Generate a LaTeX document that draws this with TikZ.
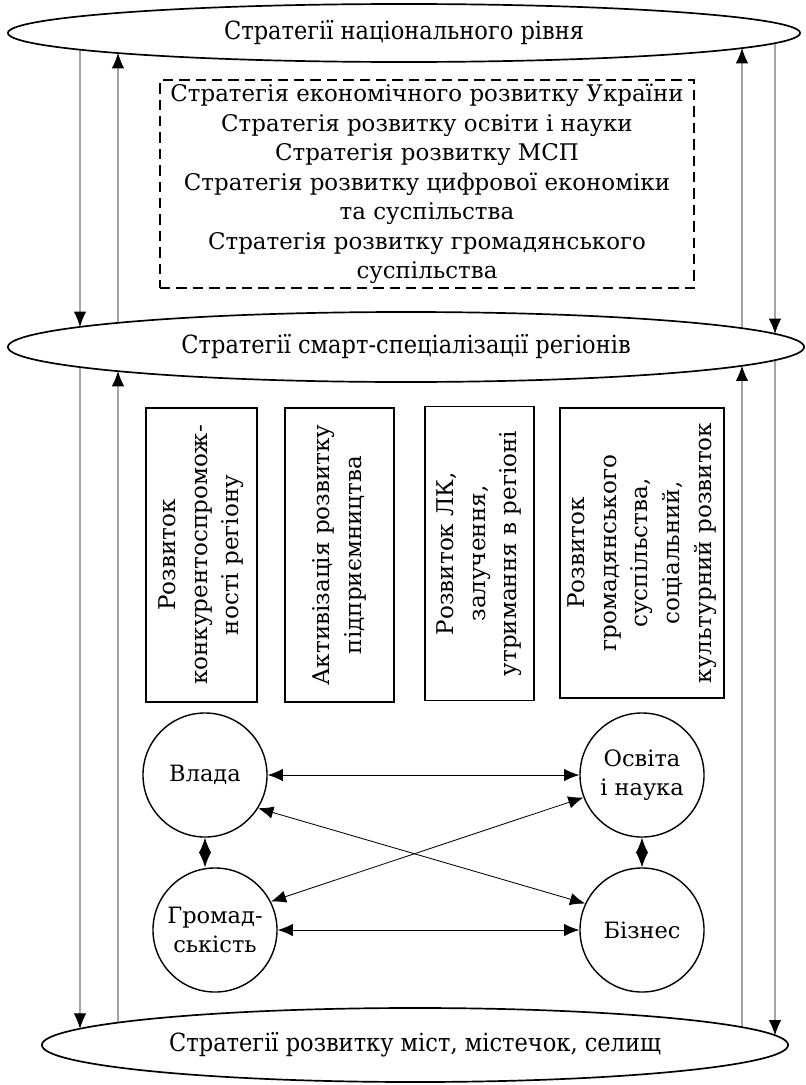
\documentclass[tikz,border=0pt]{standalone}
\usepackage{fontspec}
\setmainfont{DejaVu Serif}
\newfontfamily\condfont{DejaVu Serif Condensed}
\usetikzlibrary{arrows.meta,shapes.geometric,intersections}

\begin{document}
\begin{tikzpicture}[x=0.025cm, y=-0.025cm,
        font=\fontsize{16.3}{21}\selectfont,
        rivel/.style={ellipse, draw, line width=1.2pt, inner sep=0pt,
            font=\condfont\fontsize{17.8}{20}\selectfont},
        napr/.style={draw, line width=1pt, rotate=90, align=center, inner sep=0pt,
            minimum width=7.35cm, font=\fontsize{16.4}{22.5}\selectfont},
        uchasn/.style={circle, draw, line width=1pt, minimum size=3.1cm,
            inner sep=0pt, align=center, font=\fontsize{16}{21}\selectfont},
        zv/.style={line width=0.6pt},
        >={Latex[length=3.8mm,width=3.1mm]} % Pfeilspitzen
        ]
    \useasboundingbox (0,0) rectangle (806,1085);

    % Rivni
    \node[rivel, minimum width=19.8cm, minimum height=1.45cm, name path=natp] (nat) at (404,33)
        {Стратегії національного рівня};
    \node[rivel, minimum width=19.9cm, minimum height=1.75cm, name path=smartp] (smart) at (406,347)
        {Стратегії смарт-спеціалізації регіонів};
    \node[rivel, minimum width=18.65cm, minimum height=1.85cm, name path=mistop] (misto) at (415,1045)
        {Стратегії розвитку міст, містечок, селищ};

    % Natsionalni strategii
    \node[draw, line width=1pt, dash pattern=on 2.6mm off 1.5mm,
          minimum width=13.35cm, minimum height=5.2cm, inner sep=0pt,
          align=center] (strat) at (427,184)
        {Стратегія економічного розвитку України\\
         Стратегія розвитку освіти і науки\\
         Стратегія розвитку МСП\\
         Стратегія розвитку цифрової економіки\\
         та суспільства\\
         Стратегія розвитку громадянського\\
         суспільства};

    % Napriamy
    \node[napr, minimum height=2.775cm] (b1) at (201.5,555)
        {Розвиток\\ конкурентоспромож-\\ ності регіону};
    \node[napr, minimum height=2.725cm] (b2) at (339.5,555)
        {Активізація розвитку\\ підприємництва};
    \node[napr, minimum height=2.725cm] (b3) at (479.5,553.5)
        {Розвиток ЛК,\\ залучення,\\ утримання в регіоні};
    \node[napr, minimum height=4.1cm, minimum width=7.25cm] (b4) at (642,553)
        {Розвиток\\ громадянського\\ суспільства,\\ соціальний,\\ культурний розвиток};

    % Uchasnyky
    \node[uchasn] (vlada) at (205,775) {Влада};
    \node[uchasn] (osvita) at (642,775) {Освіта\\і наука};
    \node[uchasn] (gromada) at (215,930) {Громад-\\ськість};
    \node[uchasn] (biznes) at (642,930) {Бізнес};

    \draw[zv, <->] (vlada.east) -- (osvita.west);
    \draw[zv, <->] (gromada.east) -- (biznes.west);
    \draw[zv, <->] (vlada.-32) -- (biznes.155);
    \draw[zv, <->] (osvita.201) -- (gromada.27);
    \draw[zv, <->] (vlada.south) -- (vlada.south |- gromada.north);
    \draw[zv, <->] (osvita.south) -- (biznes.north);

    % Tochky na elipsakh
    \foreach \x/\n in {80/a, 118/b, 742/c, 775/d} {
        \path[name path=vert] (\x,0) -- (\x,1085);
        \path[name intersections={of=vert and natp, sort by=vert, name=n\n}];
        \path[name intersections={of=vert and smartp, sort by=vert, name=s\n}];
        \path[name intersections={of=vert and mistop, sort by=vert, name=m\n}];
    }

    % Zviazky mizh rivniamy
    \draw[zv, ->] (na-2) -- (sa-1);
    \draw[zv, ->] (sb-1) -- (nb-2);
    \draw[zv, ->] (sc-1) -- (nc-2);
    \draw[zv, ->] (nd-2) -- (sd-1);

    \draw[zv, ->] (sa-2) -- (ma-1);
    \draw[zv, ->] (mb-1) -- (sb-2);
    \draw[zv, ->] (mc-1) -- (sc-2);
    \draw[zv, ->] (sd-2) -- (md-1);
\end{tikzpicture}
\end{document}
